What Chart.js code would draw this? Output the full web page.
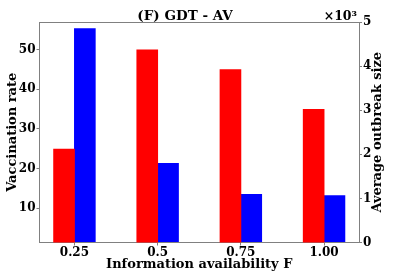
<!DOCTYPE html>
<html>
<head>
<meta charset="utf-8">
<script src="https://cdn.jsdelivr.net/npm/chart.js@4"></script>
<style>
  html, body { margin: 0; padding: 0; background: #fff; }
  #wrap { width: 399px; height: 273px; }
</style>
</head>
<body>
<div id="wrap"><canvas id="chart"></canvas></div>
<script>
const xLabels = ['0.25', '0.5', '0.75', '1.00'];
const vaccinationRate = [25, 50, 45, 35];
const outbreakSize = [4.86, 1.8, 1.1, 1.07]; // x10^3

const FONT = 'DejaVu Serif';
const AXIS_GREY = '#808080';

// frame top line, title, exponent label and right-hand axis title (reads bottom-to-top)
const extras = {
    id: 'extras',
    afterDraw(chart) {
        const { ctx, chartArea } = chart;
        ctx.save();
        ctx.strokeStyle = AXIS_GREY;
        ctx.lineWidth = 1;
        ctx.beginPath();
        ctx.moveTo(chartArea.left, chartArea.top + 0.5);
        ctx.lineTo(chartArea.right, chartArea.top + 0.5);
        ctx.stroke();

        ctx.fillStyle = '#000';
        ctx.font = 'bold 13.5px "' + FONT + '"';
        ctx.textAlign = 'center';
        ctx.textBaseline = 'alphabetic';
        ctx.fillText('(F) GDT - AV', 185, 20);

        ctx.font = 'bold 12.5px "' + FONT + '"';
        ctx.textAlign = 'right';
        ctx.fillText('\u00d710\u00b3', 357, 20);

        ctx.font = 'bold 13px "' + FONT + '"';
        ctx.translate(378, (chartArea.top + chartArea.bottom) / 2);
        ctx.rotate(-Math.PI / 2);
        ctx.textAlign = 'center';
        ctx.textBaseline = 'middle';
        ctx.fillText('Average outbreak size', 0, 0);
        ctx.restore();
    }
};

new Chart(document.getElementById('chart'), {
    type: 'bar',
    data: {
        datasets: [
            {
                label: 'Vaccination rate',
                data: vaccinationRate.map((v, i) => ({ x: i, y: v })),
                backgroundColor: '#ff0000',
                yAxisID: 'y'
            },
            {
                label: 'Average outbreak size',
                data: outbreakSize.map((v, i) => ({ x: i, y: v })),
                backgroundColor: '#0000ff',
                yAxisID: 'y2'
            }
        ]
    },
    options: {
        responsive: true,
        maintainAspectRatio: false,
        animation: false,
        categoryPercentage: 0.5,
        barPercentage: 1.04,
        layout: { padding: { top: 22, left: 0, right: 0, bottom: 0 } },
        plugins: {
            legend: { display: false },
            tooltip: { enabled: false }
        },
        scales: {
            x: {
                type: 'linear',
                offset: false,
                min: -0.42,
                max: 3.42,
                afterBuildTicks: scale => {
                    scale.ticks = xLabels.map((_, i) => ({ value: i }));
                },
                afterFit: scale => { scale.height = 30.5; },
                grid: { display: true, drawOnChartArea: false, offset: false, tickLength: 3, color: AXIS_GREY },
                border: { display: true, color: AXIS_GREY },
                ticks: {
                    color: '#000',
                    padding: 0,
                    maxRotation: 0,
                    font: { family: FONT, size: 12, weight: 'bold' },
                    callback: v => xLabels[v]
                },
                title: {
                    display: true,
                    text: 'Information availability F',
                    color: '#000',
                    padding: { top: 0, bottom: 1 },
                    font: { family: FONT, size: 13, weight: 'bold' }
                }
            },
            y: {
                position: 'left',
                min: 1.4,
                max: 56.9,
                afterBuildTicks: scale => {
                    scale.ticks = [10, 20, 30, 40, 50].map(v => ({ value: v }));
                },
                afterFit: scale => { scale.width = 39.5; },
                grid: { display: true, drawOnChartArea: false, tickLength: 3, color: AXIS_GREY },
                border: { display: true, color: AXIS_GREY },
                ticks: {
                    color: '#000',
                    padding: 1,
                    font: { family: FONT, size: 12, weight: 'bold' }
                },
                title: {
                    display: true,
                    text: 'Vaccination rate',
                    color: '#000',
                    padding: { top: 5, bottom: 0 },
                    font: { family: FONT, size: 13, weight: 'bold' }
                }
            },
            y2: {
                position: 'right',
                min: 0,
                max: 5,
                afterBuildTicks: scale => {
                    scale.ticks = [0, 1, 2, 3, 4, 5].map(v => ({ value: v }));
                },
                afterFit: scale => { scale.width = 40; },
                grid: { display: true, drawOnChartArea: false, tickLength: 3, color: AXIS_GREY },
                border: { display: true, color: AXIS_GREY },
                ticks: {
                    color: '#000',
                    padding: 1,
                    font: { family: FONT, size: 12, weight: 'bold' }
                }
            }
        }
    },
    plugins: [extras]
});
</script>
</body>
</html>
